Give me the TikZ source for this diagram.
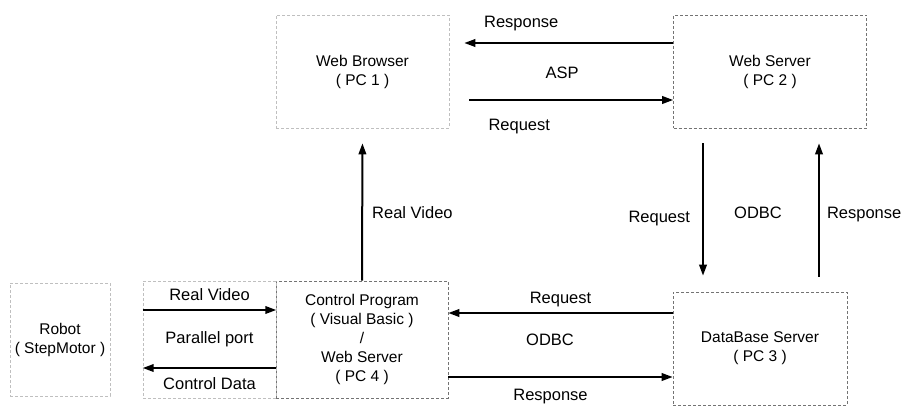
\documentclass[tikz,border=0pt]{standalone}
\usepackage{fontspec}
\setmainfont{Liberation Sans}
\usetikzlibrary{arrows.meta, positioning}

\begin{document}
\begin{tikzpicture}[
  x=1pt, y=-1pt,
  >={Triangle[length=11pt, width=7.5pt]},
  flow/.style={->, line width=2pt, draw=black},
  pcbox/.style={draw=black!55, densely dashed, line width=0.6pt, align=center,
    font=\fontsize{15.5}{19}\selectfont, inner sep=0pt},
  faintbox/.style={pcbox, draw=black!25},
  lbl/.style={font=\fontsize{16.5}{19}\selectfont, inner sep=1pt} % texte sur les fleches
]
  \useasboundingbox (0,0) rectangle (917,409);

  % --- Postes ---
  \node[faintbox, minimum width=173pt, minimum height=113pt] (browser) at (362.5,71.5) {Web Browser\\( PC 1 )};
  \node[pcbox, minimum width=193pt, minimum height=113pt] (server) at (770,71.5) {Web Server\\( PC 2 )};
  \node[pcbox, minimum width=172pt, minimum height=117pt] (control) at (362,339.5)
    {Control Program\\( Visual Basic )\\/\\Web Server\\( PC 4 )};
  \node[pcbox, minimum width=174pt, minimum height=113pt] (db) at (760,348.5) {DataBase Server\\( PC 3 )};
  \node[faintbox, minimum width=100pt, minimum height=113pt] (robot) at (60,339.5) {Robot\\( StepMotor )};
  \node[faintbox, minimum width=133pt, minimum height=117pt, font=\fontsize{16.5}{19}\selectfont]
    (port) at (209.5,339.5) {Parallel port};

  % --- Browser <-> Web Server ---
  \draw[flow, shorten >=15pt] ([yshift=28.5pt]server.west) -- node[lbl, above=10pt, xshift=-40pt] (resp1) {Response} ([yshift=28.5pt]browser.east);
  \draw[flow, shorten <=20pt] ([yshift=-28.5pt]browser.east) -- node[lbl, below=17pt, xshift=-42pt] (req1) {Request} ([yshift=-28.5pt]server.west);
  \node[lbl] (asp) at (562,73) {ASP};

  % --- Control -> Browser ---
  \draw[flow, shorten >=15pt] (control.north) -- node[lbl, right=8pt, pos=0.45] (video1) {Real Video} (browser.south);

  % --- Web Server <-> DataBase ---
  \draw[flow, shorten <=15pt, shorten >=16pt] ([xshift=-67pt]server.south) -- node[lbl, left=11pt, pos=0.55] (req2) {Request}
    ([xshift=-67pt]server.south |- db.north);
  \draw[flow, shorten <=15pt, shorten >=15pt] ([xshift=59pt]db.north) -- node[lbl, right=6pt, pos=0.47] (resp2) {Response}
    ([xshift=59pt]db.north |- server.south);
  \node[lbl] (odbc1) at (758,213) {ODBC};

  % --- DataBase <-> Control ---
  \draw[flow] ([yshift=35.5pt]db.west) -- node[lbl, above=4pt] (req3) {Request} ([yshift=35.5pt]db.west -| control.east);
  \draw[flow] ([yshift=-28.5pt]db.west -| control.east) -- node[lbl, below=10pt, xshift=-10pt] (resp3) {Response} ([yshift=-28.5pt]db.west);
  \node[lbl] (odbc2) at (550,340) {ODBC};

  % --- Robot <-> Control ---
  \draw[flow] ([yshift=29.5pt]port.west) -- node[lbl, above=7pt] (video2) {Real Video} ([yshift=29.5pt]port.east);
  \draw[flow] ([yshift=-28.5pt]port.east) -- node[lbl, below=8pt] (data) {Control Data} ([yshift=-28.5pt]port.west);

\end{tikzpicture}
\end{document}
